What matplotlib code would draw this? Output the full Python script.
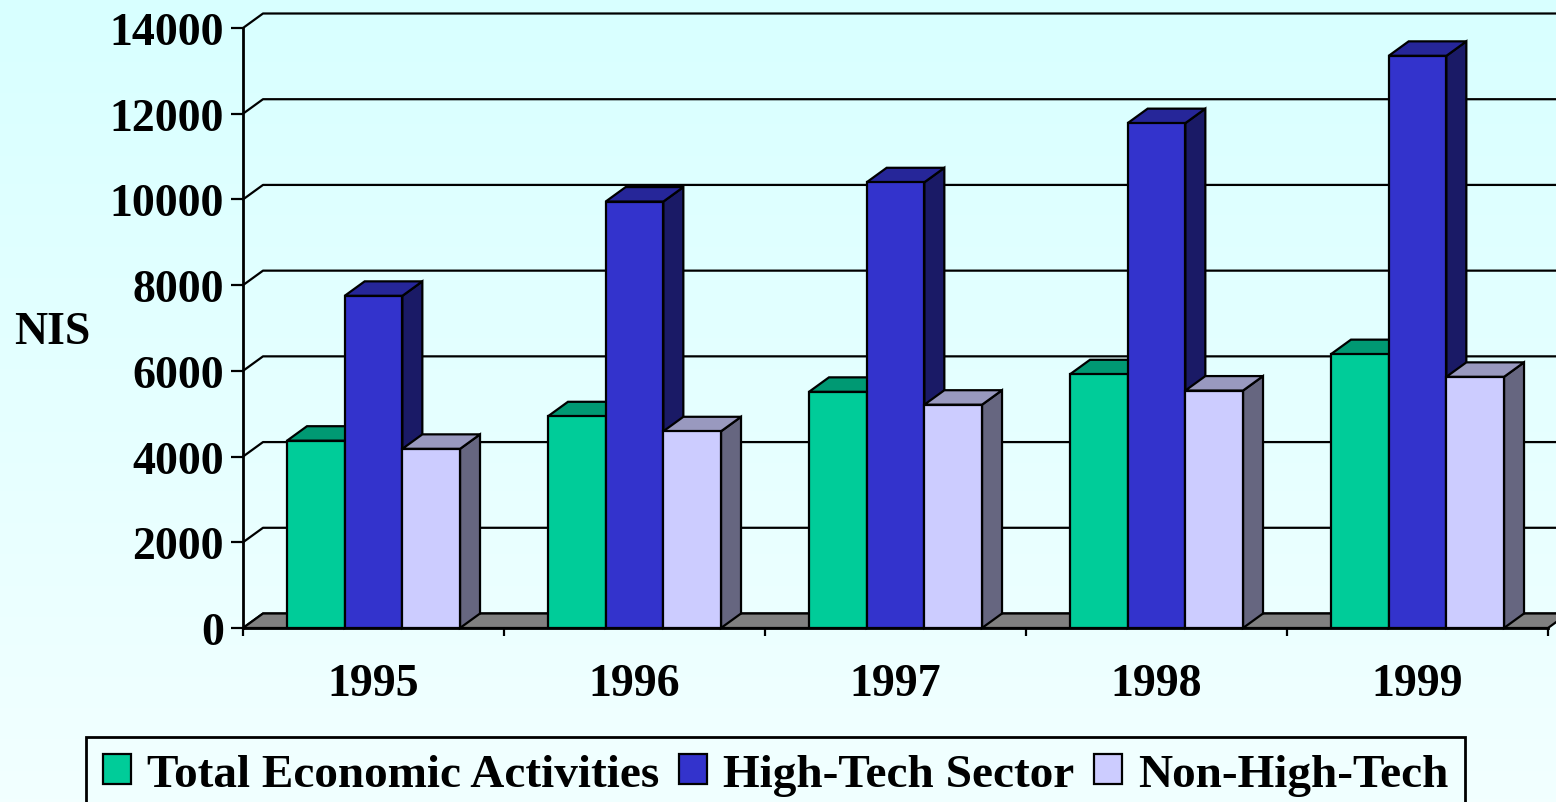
import numpy as np
import matplotlib.pyplot as plt
from matplotlib.patches import Polygon, Patch
from matplotlib.colors import LinearSegmentedColormap

# data
years = ['1995', '1996', '1997', '1998', '1999']
total_economic = [4370, 4940, 5510, 5920, 6390]
high_tech = [7750, 9950, 10400, 11780, 13350]
non_high_tech = [4180, 4590, 5210, 5540, 5860]
series_names = ['Total Economic Activities', 'High-Tech Sector', 'Non-High-Tech']
y_ticks = list(range(0, 14001, 2000))

# colours: front, top (darker), side (darkest)
face_cols = ['#00CC99', '#3333CC', '#CCCCFF']
top_cols = ['#009973', '#262699', '#9999BF']
side_cols = ['#006650', '#1A1A66', '#666680']

plt.rcParams['font.family'] = ['Liberation Serif', 'DejaVu Serif']
plt.rcParams['font.weight'] = 'bold'

W, H, DPI = 1556, 803, 100
fig = plt.figure(figsize=(W / DPI, H / DPI), dpi=DPI)

# background gradient
bg = fig.add_axes([0, 0, 1, 1], zorder=-10)
grad = np.linspace(0, 1, 256).reshape(-1, 1)
cmap = LinearSegmentedColormap.from_list('bg', ['#D8FFFF', '#F2FFFF'])
bg.imshow(grad, aspect='auto', cmap=cmap, extent=[0, 1, 0, 1], origin='upper')
bg.axis('off')

# front plane of the plot
ax = fig.add_axes([243 / W, (H - 629) / H, (1548 - 243) / W, 600 / H])
ax.patch.set_alpha(0)
n = len(years)
ax.set_xlim(-0.5, n - 0.5)
ax.set_ylim(0, 14000)

# depth offset (20 px right, 14.5 px up) in data units
dx = 20 * n / 1305
dy = 14.5 * 14000 / 600
bw = 0.221
lw = 1.6

# back wall gridlines + left wall diagonals
for v in y_ticks:
    ax.plot([-0.5, -0.5 + dx, n - 0.5 + dx], [v, v + dy, v + dy],
            color='black', lw=lw, clip_on=False, zorder=1)

# floor
ax.add_patch(Polygon([(-0.5, 0), (n - 0.5, 0), (n - 0.5 + dx, dy), (-0.5 + dx, dy)],
                     closed=True, facecolor='#808080', edgecolor='black', lw=lw,
                     clip_on=False, zorder=2))

series = [total_economic, high_tech, non_high_tech]
for i in range(n):
    for j, vals in enumerate(series):
        h = vals[i]
        x0 = i + (j - 1.5) * bw
        x1 = x0 + bw
        kw = dict(closed=True, edgecolor='black', lw=lw, clip_on=False,
                  joinstyle='miter', zorder=3 + i * 3 + j)
        ax.add_patch(Polygon([(x1, 0), (x1 + dx, dy), (x1 + dx, h + dy), (x1, h)],
                             facecolor=side_cols[j], **kw))
        ax.add_patch(Polygon([(x0, h), (x1, h), (x1 + dx, h + dy), (x0 + dx, h + dy)],
                             facecolor=top_cols[j], **kw))
        ax.add_patch(Polygon([(x0, 0), (x1, 0), (x1, h), (x0, h)],
                             facecolor=face_cols[j], **kw))

for s in ['top', 'right']:
    ax.spines[s].set_visible(False)
for s in ['left', 'bottom']:
    ax.spines[s].set_linewidth(2)
    ax.spines[s].set_zorder(40)

ax.set_yticks(y_ticks)
ax.set_yticklabels([str(v) for v in y_ticks])
ax.tick_params(axis='y', length=8.6, width=lw, pad=5, labelsize=33)
ax.set_xticks(range(n))
ax.set_xticklabels(years)
ax.set_xticks(np.arange(-0.5, n, 1), minor=True)
ax.tick_params(axis='x', which='major', length=0, pad=25, labelsize=33)
ax.tick_params(axis='x', which='minor', length=6, width=lw)

ax.set_ylabel('NIS', rotation=0, fontsize=33, fontweight='bold', ha='center', va='center')
ax.yaxis.set_label_coords((52 - 243) / 1305, (629 - 333) / 600)

handles = [Patch(facecolor=face_cols[j], edgecolor='black', lw=lw) for j in range(3)]
leg = fig.legend(handles, series_names, loc='upper left', ncol=3,
                 bbox_to_anchor=(86 / W, 1 - 738 / H), borderaxespad=0,
                 fontsize=34, frameon=True, fancybox=False, edgecolor='black',
                 facecolor='#F0FFFF', framealpha=1,
                 handlelength=0.6, handleheight=0.6, handletextpad=0.35,
                 columnspacing=0.4, borderpad=0.35)
leg.get_frame().set_linewidth(2)

fig.savefig('out.png', dpi=DPI)
